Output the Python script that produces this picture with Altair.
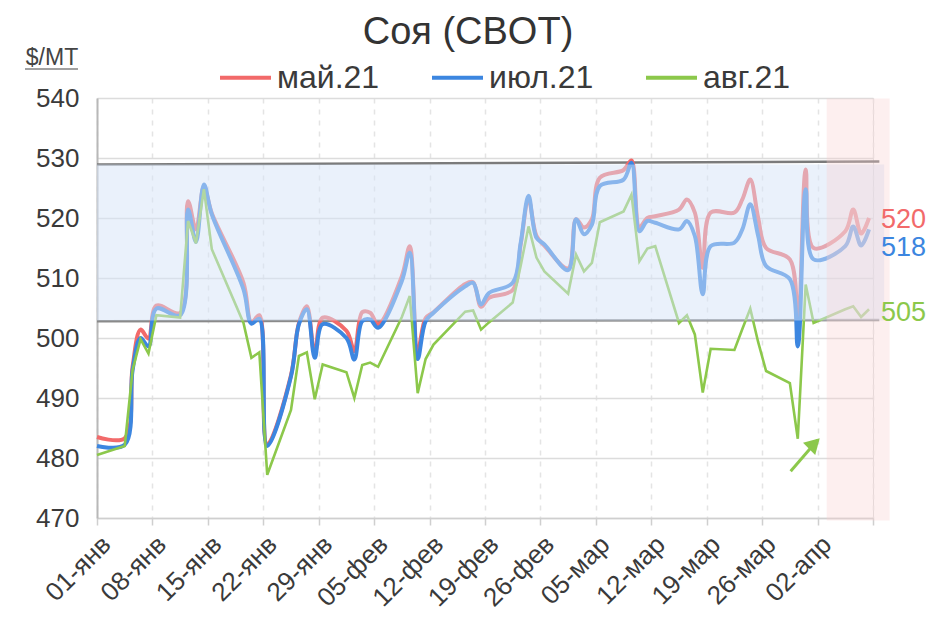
import altair as alt
import pandas as pd

# ---- data ----
days = [0, 3.5, 4.5, 5.5, 6.5, 7.5, 10.5, 11.5, 12.5, 13.5, 14.5,
        18.5, 19.5, 20.5, 21.5, 24.5, 25.5, 26.5, 27.5, 28.5,
        31.5, 32.5, 33.5, 34.5, 35.5, 38.5, 39.5, 40.5, 41.5, 42.5,
        46.5, 47.5, 48.5, 49.5, 52.5, 53.5, 54.5, 55.5, 56.5,
        59.5, 60.5, 61.5, 62.5, 63.5, 66.5, 67.5, 68.5, 69.5, 70.5,
        73.5, 74.5, 75.5, 76.5, 77.5, 80.5, 81.5, 82.5, 83.5, 84.5,
        87.5, 88.5, 89.5, 90.5, 94.5, 95.5, 96.5, 97.5]

may21 = [483.5, 483.3, 495.3, 501.4, 499.9, 505.4, 504.2, 522.8, 518.1, 525.2, 520.8,
         509.2, 502.6, 503.8, 482.3, 493.8, 502.5, 505.3, 497.3, 503.4,
         501.2, 497.8, 504.3, 504.2, 502.3, 510.3, 515.3, 497.8, 503.3, 504.3,
         509.0, 509.3, 505.2, 506.7, 508.0, 515.5, 523.0, 517.0, 515.4,
         511.6, 519.8, 518.4, 519.8, 526.7, 528.0, 529.6, 518.5, 520.0, 520.3,
         521.4, 523.1, 520.9, 511.7, 520.9, 520.9, 523.1, 526.4, 520.0, 515.0,
         513.1, 502.3, 528.1, 515.0, 517.8, 521.4, 517.4, 520.0]

jul21 = [482.0, 482.2, 494.7, 500.0, 498.6, 504.9, 503.8, 521.4, 516.0, 525.6, 520.6,
         508.1, 502.4, 503.2, 482.0, 493.6, 502.3, 504.8, 496.7, 502.3,
         500.0, 496.4, 502.8, 503.1, 501.7, 509.5, 514.2, 496.5, 502.8, 504.2,
         508.6, 509.2, 505.6, 507.5, 509.2, 515.8, 523.7, 516.7, 515.6,
         511.3, 519.8, 517.3, 518.9, 525.3, 526.4, 529.2, 517.8, 519.5, 519.2,
         518.1, 519.5, 517.0, 507.3, 515.3, 515.9, 518.1, 522.3, 517.0, 512.0,
         509.8, 498.6, 524.8, 513.1, 515.3, 518.6, 515.4, 518.1]

aug21 = [480.5, 482.0, 494.7, 499.8, 497.4, 503.8, 503.4, 519.5, 515.8, 524.8, 514.8,
         502.5, 496.7, 497.6, 477.2, 488.0, 497.0, 497.6, 489.8, 495.6,
         494.3, 490.0, 495.5, 495.9, 495.2, 503.5, 507.0, 490.8, 496.5, 498.9,
         504.4, 504.6, 501.4, 502.6, 505.9, 512.0, 518.6, 513.4, 511.1,
         507.4, 513.9, 511.1, 512.5, 519.3, 521.1, 523.9, 512.8, 514.9, 515.3,
         502.5, 503.8, 500.6, 490.9, 498.2, 498.0, 501.5, 504.9, 499.3, 494.5,
         492.5, 483.2, 508.9, 502.5, 504.8, 505.3, 503.5, 504.8]

series_names = ["май.21", "июл.21", "авг.21"]
series_colors = ["#f26a6a", "#3c86e0", "#8cc84b"]

tick_days = list(range(0, 99, 7))
tick_labels = ["01-янв", "08-янв", "15-янв", "22-янв", "29-янв", "05-фев", "12-фев",
               "19-фев", "26-фев", "05-мар", "12-мар", "19-мар", "26-мар", "02-апр", ""]
y_ticks = [470, 480, 490, 500, 510, 520, 530, 540]

channel_days = [0, 98.8]
channel_top = [528.9, 529.4]
channel_bottom = [502.8, 503.0]
band = {"x0": 0, "x1": 99.4, "y0": 502.9, "y1": 528.9}
forecast = {"x0": 92.15, "x1": 100.1, "y0": 469.6, "y1": 539.9}
arrow = {"x0": 87.6, "y0": 477.8, "x1": 91.0, "y1": 483.0, "hx": 90.6, "hy": 482.4}

title_text = "Соя (CBOT)"
unit_text_str = "$/MT"

FONT = "Liberation Sans"
TXT = "#3a3a3a"

# ---- tables ----
rows = []
for name, vals in zip(series_names, [may21, jul21, aug21]):
    for d, v in zip(days, vals):
        rows.append({"day": d, "value": v, "series": name})
df = pd.DataFrame(rows)

df_channel = pd.DataFrame({"day": channel_days, "top": channel_top, "bottom": channel_bottom})
df_band = pd.DataFrame([band])
df_fc = pd.DataFrame([forecast])
df_arrow = pd.DataFrame([arrow])

label_expr = "[" + ",".join("'" + t + "'" for t in tick_labels) + "][round(datum.value/7)]"

x_axis = alt.Axis(values=tick_days, labelExpr=label_expr, labelAngle=-45,
                  labelAlign="right", labelBaseline="top", labelFontSize=26,
                  labelPadding=6, labelColor=TXT, labelFont=FONT, title=None,
                  grid=True, gridDash=[5, 6], gridColor="#e4e4e4", gridWidth=1.5,
                  domainColor="#cfcfcf", domainWidth=1.5, tickColor="#cfcfcf",
                  tickSize=7, tickWidth=1.5, labelOverlap=False, labelBound=False)
y_axis = alt.Axis(values=y_ticks, title=None, labelFontSize=26, labelFont=FONT,
                  labelColor=TXT, labelPadding=18, grid=True, gridColor="#dcdcdc",
                  gridWidth=1.5, domainColor="#b8b8b8", domainWidth=2, ticks=False)
x_scale = alt.Scale(domain=[0, 98], nice=False, zero=False)
y_scale = alt.Scale(domain=[470, 540], nice=False, zero=False)


def X(f):
    return alt.X(f"{f}:Q", scale=x_scale, axis=x_axis)


def Y(f):
    return alt.Y(f"{f}:Q", scale=y_scale, axis=y_axis)


color = alt.Color("series:N",
                  scale=alt.Scale(domain=series_names, range=series_colors),
                  legend=alt.Legend(orient="none", legendX=121, legendY=-48,
                                    direction="horizontal", title=None,
                                    symbolType="stroke", symbolSize=2600,
                                    symbolStrokeWidth=4, labelFontSize=32,
                                    labelFont=FONT, labelColor=TXT,
                                    columnPadding=44, labelOffset=4))

ch_top = alt.Chart(df_channel).mark_line(color="#7b7b7b", strokeWidth=2.5).encode(x=X("day"), y=Y("top"))
ch_bot = alt.Chart(df_channel).mark_line(color="#8a8a8a", strokeWidth=2.5).encode(x=X("day"), y=Y("bottom"))

smooth = alt.Chart(df).transform_filter(
    alt.FieldOneOfPredicate(field="series", oneOf=series_names[:2])
).mark_line(interpolate="catmull-rom", strokeWidth=4).encode(
    x=X("day"), y=Y("value"), color=color, order=alt.Order("day:Q"))

green = alt.Chart(df).transform_filter(
    alt.FieldEqualPredicate(field="series", equal=series_names[2])
).mark_line(strokeWidth=2.6).encode(
    x=X("day"), y=Y("value"), color=color, order=alt.Order("day:Q"))

band_l = alt.Chart(df_band).mark_rect(color="#d6e3f7", opacity=0.5).encode(
    x=X("x0"), x2="x1", y=Y("y0"), y2="y1")
fc_l = alt.Chart(df_fc).mark_rect(color="#f9cfcf", opacity=0.33).encode(
    x=X("x0"), x2="x1", y=Y("y0"), y2="y1")

last_layers = []
label_dy = [2, 19, 4]
for name, vals, col, dy in zip(series_names, [may21, jul21, aug21], series_colors, label_dy):
    d_last = pd.DataFrame({"day": [days[-1]], "value": [vals[-1]], "t": [str(int(round(vals[-1])))]})
    last_layers.append(
        alt.Chart(d_last).mark_text(align="left", baseline="middle", dx=12, dy=dy,
                                    fontSize=27, font=FONT, color=col).encode(
            x=X("day"), y=Y("value"), text="t:N"))

arrow_line = alt.Chart(df_arrow).mark_rule(color="#8cc84b", strokeWidth=3).encode(
    x=X("x0"), y=Y("y0"), x2="x1", y2="y1")
arrow_head = alt.Chart(df_arrow).mark_point(shape="triangle-up", angle=45, size=300,
                                            filled=True, color="#8cc84b", opacity=1).encode(
    x=X("hx"), y=Y("hy"))

title_df = pd.DataFrame({"t": [title_text]})
title_l = alt.Chart(title_df).mark_text(align="center", baseline="alphabetic", fontSize=38,
                                        font=FONT, color="#333").encode(
    x=alt.value(371), y=alt.value(-54), text="t:N")

unit_df = pd.DataFrame({"t": [unit_text_str]})
unit_text = alt.Chart(unit_df).mark_text(align="center", baseline="alphabetic", fontSize=23,
                                         font=FONT, color="#444").encode(
    x=alt.value(-45), y=alt.value(-33), text="t:N")
unit_line = alt.Chart(unit_df).mark_rule(color="#444", strokeWidth=1.2).encode(
    x=alt.value(-72), x2=alt.value(-19), y=alt.value(-29))

chart = alt.layer(
    ch_top, ch_bot, smooth, green, band_l, fc_l, arrow_line, arrow_head,
    *last_layers, title_l, unit_text, unit_line
).properties(
    width=776, height=420,
    autosize=alt.AutoSizeParams(type="none"),
    padding={"left": 89, "top": 90, "right": 54, "bottom": 102},
).configure_view(stroke=None).configure(font=FONT)

chart.save("out.html", embed_options={"renderer": "svg", "actions": False})
